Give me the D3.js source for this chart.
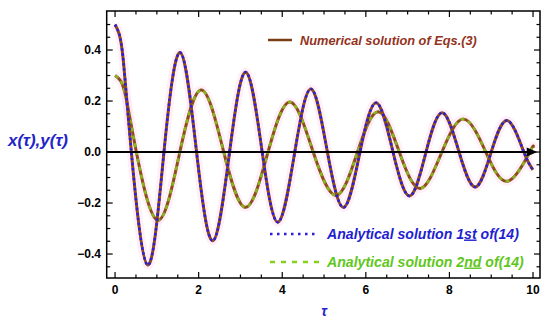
<!DOCTYPE html>
<html><head><meta charset="utf-8">
<script src="https://cdn.jsdelivr.net/npm/d3@7"></script>
<style>body{margin:0;background:#fff}svg{display:block}</style>
</head><body>
<svg id="c" width="550" height="324"></svg>
<script>
// x(τ) – extrema, zero crossings and a few start points
const xTau = [0, 0.1, 0.2, 0.39, 0.78, 1.17, 1.56, 1.95, 2.34, 2.74, 3.13, 3.52, 3.9, 4.3, 4.69, 5.08, 5.47, 5.86, 6.25, 6.65, 7.05, 7.44, 7.83, 8.23, 8.62, 9.0, 9.39, 9.78, 10];
const xVal = [0.5, 0.462, 0.355, 0, -0.443, 0, 0.39, 0, -0.348, 0, 0.313, 0, -0.275, 0, 0.247, 0, -0.217, 0, 0.193, 0, -0.172, 0, 0.154, 0, -0.137, 0, 0.123, 0, -0.07];
// y(τ)
const yTau = [0, 0.13, 0.26, 0.51, 1.02, 1.55, 2.07, 2.6, 3.13, 3.66, 4.19, 4.74, 5.29, 5.8, 6.3, 6.8, 7.3, 7.82, 8.34, 8.87, 9.4, 9.92, 10];
const yVal = [0.3, 0.28, 0.215, 0, -0.267, 0, 0.243, 0, -0.217, 0, 0.196, 0, -0.17, 0, 0.158, 0, -0.143, 0, 0.129, 0, -0.114, 0, 0.017];

const xTicks = [0, 2, 4, 6, 8, 10];
const yTicks = [-0.4, -0.2, 0, 0.2, 0.4];
const yTickLabels = ["\u22120.4", "\u22120.2", "0.0", "0.2", "0.4"];
const legendLabels = ["Numerical solution of Eqs.(3)", "Analytical solution 1st of(14)", "Analytical solution 2nd of(14)"];

const svg = d3.select("#c");
const L = 106.7, R = 540, T = 11, B = 278;
const x = d3.scaleLinear().domain([-0.2, 10.167]).range([L, R]);
const y = d3.scaleLinear().domain([-0.494, 0.553]).range([B, T]);

svg.append("clipPath").attr("id","clp").append("rect")
  .attr("x", L).attr("y", T).attr("width", R-L).attr("height", B-T);

const xs = xTau.map((t,i)=>[t, xVal[i]]);
const ys = yTau.map((t,i)=>[t, yVal[i]]);
const line = d3.line().x(d=>x(d[0])).y(d=>y(d[1])).curve(d3.curveNatural);

const g = svg.append("g").attr("clip-path","url(#clp)");
// faint halo
[xs, ys].forEach(s => g.append("path").attr("d", line(s)).attr("fill","none")
  .attr("stroke","#fcdcf2").attr("stroke-width",9).attr("opacity",0.45));

// zero axis
svg.append("line").attr("x1", L).attr("x2", x(10.05)).attr("y1", y(0)).attr("y2", y(0))
  .attr("stroke","#000").attr("stroke-width",2);
svg.append("path")
  .attr("d", `M${x(9.85)},${y(0)-4.5} L${x(10.1)},${y(0)} L${x(9.85)},${y(0)+4.5} Z`)
  .attr("fill","#000");

const brown = "#8f4a1e", blue = "#2b1ed6", green = "#86d01e";
g.append("path").attr("d", line(ys)).attr("fill","none").attr("stroke",brown).attr("stroke-width",3);
g.append("path").attr("d", line(ys)).attr("fill","none").attr("stroke",green).attr("stroke-width",2.6)
  .attr("stroke-dasharray","4,4").attr("opacity",0.8);
g.append("path").attr("d", line(xs)).attr("fill","none").attr("stroke",brown).attr("stroke-width",3);
g.append("path").attr("d", line(xs)).attr("fill","none").attr("stroke",blue).attr("stroke-width",2.6)
  .attr("stroke-dasharray","2.5,2.5");

// frame
svg.append("rect").attr("x", L).attr("y", T).attr("width", R-L).attr("height", B-T)
  .attr("fill","none").attr("stroke","#000").attr("stroke-width",1.5);

// ticks
const tk = svg.append("g").attr("stroke","#000").attr("stroke-width",1.2);
d3.range(0, 10.01, 0.5).forEach(t => {
  const major = Math.abs(t/2 - Math.round(t/2)) < 1e-6;
  const len = major ? 6 : 3.5;
  tk.append("line").attr("x1", x(t)).attr("x2", x(t)).attr("y1", B).attr("y2", B-len);
  tk.append("line").attr("x1", x(t)).attr("x2", x(t)).attr("y1", T).attr("y2", T+len);
});
d3.range(-0.45, 0.5001, 0.05).forEach(v => {
  const major = Math.abs(v/0.2 - Math.round(v/0.2)) < 1e-6;
  const len = major ? 6 : 3.5;
  tk.append("line").attr("y1", y(v)).attr("y2", y(v)).attr("x1", L).attr("x2", L+len);
  tk.append("line").attr("y1", y(v)).attr("y2", y(v)).attr("x1", R).attr("x2", R-len);
});

const fontB = "'Liberation Sans', Arial, sans-serif";
svg.append("g").selectAll("text").data(xTicks).join("text")
  .attr("x", d=>x(d)).attr("y", 294).attr("text-anchor","middle")
  .attr("font-family", fontB).attr("font-weight","bold").attr("font-size", 12)
  .text(d=>d);
svg.append("g").selectAll("text").data(yTicks).join("text")
  .attr("x", 101).attr("y", d=>y(d)+4.3).attr("text-anchor","end")
  .attr("font-family", fontB).attr("font-weight","bold").attr("font-size", 12)
  .text((d,i)=>yTickLabels[i]);

function fit(sel, target, base){
  const w = sel.node().getComputedTextLength();
  sel.attr("font-size", base*target/w);
}

// axis labels
const yl = svg.append("text").attr("x", 8).attr("y", 146)
  .attr("font-family", fontB).attr("font-weight","bold").attr("font-style","italic")
  .attr("font-size", 14).attr("fill", "#2424c8").text("x(\u03c4),y(\u03c4)");
fit(yl, 60, 14);
svg.append("text").attr("x", 324).attr("y", 316).attr("text-anchor","middle")
  .attr("font-family", fontB).attr("font-weight","bold").attr("font-style","italic")
  .attr("font-size", 14).attr("fill", "#2424c8").text("\u03c4");

// legend
svg.append("line").attr("x1",268).attr("x2",292).attr("y1",40).attr("y2",40)
  .attr("stroke","#7a3e14").attr("stroke-width",2.5);
const l1 = svg.append("text").attr("x",300).attr("y",44.5)
  .attr("font-family", fontB).attr("font-weight","bold").attr("font-style","italic")
  .attr("font-size",12).attr("fill","#93331c").text(legendLabels[0]);
fit(l1, 177, 12);

svg.append("line").attr("x1",270).attr("x2",318).attr("y1",234).attr("y2",234)
  .attr("stroke",blue).attr("stroke-width",2.5).attr("stroke-dasharray","2.5,4.5");
const l2 = svg.append("text").attr("x",327).attr("y",238.5)
  .attr("font-family", fontB).attr("font-weight","bold").attr("font-style","italic")
  .attr("font-size",12).attr("fill","#1f1fd0");
l2.append("tspan").text("Analytical solution 1");
l2.append("tspan").attr("text-decoration","underline").text("st");
l2.append("tspan").text(" of(14)");
fit(l2, 192, 12);

svg.append("line").attr("x1",270).attr("x2",322).attr("y1",262).attr("y2",262)
  .attr("stroke",green).attr("stroke-width",2.5).attr("stroke-dasharray","5,6");
const l3 = svg.append("text").attr("x",327).attr("y",266.5)
  .attr("font-family", fontB).attr("font-weight","bold").attr("font-style","italic")
  .attr("font-size",12).attr("fill","#5fc71c");
l3.append("tspan").text("Analytical solution 2");
l3.append("tspan").attr("text-decoration","underline").text("nd");
l3.append("tspan").text(" of(14)");
fit(l3, 197, 12);
</script>
</body></html>
